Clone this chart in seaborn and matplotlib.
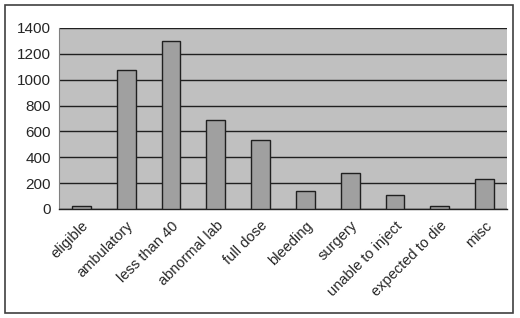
import matplotlib
matplotlib.use("Agg")
import matplotlib.pyplot as plt
import seaborn as sns
import pandas as pd
from matplotlib.patches import Rectangle

# Values
categories = ["eligible", "ambulatory", "less than 40", "abnormal lab", "full dose",
              "bleeding", "surgery", "unable to inject", "expected to die", "misc"]
counts = [20, 1075, 1300, 690, 535, 140, 280, 110, 25, 228]
y_ticks = [0, 200, 400, 600, 800, 1000, 1200, 1400]

df = pd.DataFrame({"reason": categories, "count": counts})

sns.set_style("white")
plt.rcParams["font.family"] = ["Liberation Sans", "DejaVu Sans"]

fig = plt.figure(figsize=(5.2, 3.18), dpi=100)
ax = fig.add_axes([0.1135, 0.343, 0.8615, 0.569])

sns.barplot(data=df, x="reason", y="count", color="#a0a0a0", width=0.42,
            edgecolor="#202020", linewidth=1.0, saturation=1, ax=ax, zorder=3)

ax.set_facecolor("#c0c0c0")
ax.set_ylim(0, 1400)
ax.set_xlim(-0.5, len(categories) - 0.5)
ax.set_yticks(y_ticks)
ax.set_yticklabels([str(v) for v in y_ticks], fontsize=11)
ax.yaxis.grid(True, color="#202020", linewidth=1.0, zorder=0)
ax.set_axisbelow(True)

# labels at bar centres, tick marks between categories
ax.set_xticks(range(len(categories)))
ax.set_xticklabels(categories, rotation=45, ha="right", rotation_mode="anchor", fontsize=10.5)
ax.set_xticks([i - 0.5 for i in range(len(categories) + 1)], minor=True)
ax.tick_params(axis="x", which="major", length=0, pad=7)
ax.tick_params(axis="x", which="minor", length=4, width=1, color="#202020", direction="out")
ax.tick_params(axis="y", length=4, width=1, color="#202020", direction="out", pad=2)

ax.set_xlabel("")
ax.set_ylabel("")
for side in ["top", "right"]:
    ax.spines[side].set_visible(False)
ax.spines["left"].set_color("#808080")
ax.spines["bottom"].set_color("#202020")
ax.spines["bottom"].set_linewidth(1.0)

# outer chart border
fig.patches.append(Rectangle((0.01, 0.015), 0.977, 0.968, transform=fig.transFigure,
                             fill=False, edgecolor="#404040", linewidth=1.2))

fig.savefig("out.png", dpi=100)
